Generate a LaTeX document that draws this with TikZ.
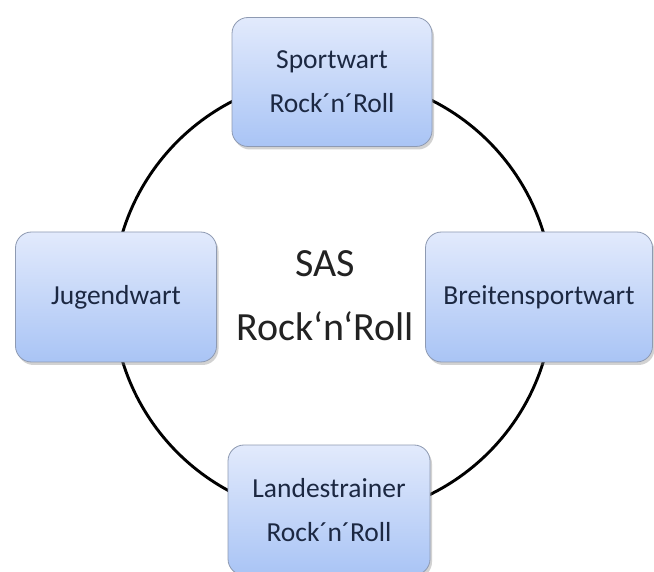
\documentclass[tikz,border=0pt]{standalone}
\usepackage{fontspec}
\setmainfont{Carlito}
\usetikzlibrary{shadows}
\definecolor{boxtop}{HTML}{E2EAFC}
\definecolor{boxbot}{HTML}{A9C4F5}
\definecolor{boxline}{HTML}{8E9AB2}
\definecolor{boxtext}{HTML}{1C2842}
\definecolor{midtext}{HTML}{222222}
\tikzset{
  rolebox/.style={draw=boxline, line width=0.8pt, rounded corners=16pt,
    top color=boxtop, bottom color=boxbot, text=boxtext,
    font=\fontsize{27.5}{44}\selectfont, align=center, inner sep=0pt,
    drop shadow={opacity=0.35, shadow xshift=2pt, shadow yshift=-3pt}},
  ringline/.style={draw=black, line width=2.9pt, circle, inner sep=0pt}
}
\begin{document}
\begin{tikzpicture}[x=1pt,y=-1pt]
\useasboundingbox (0,0) rectangle (654,572);
\fill[white] (0,0) rectangle (654,572);
\node[ringline, minimum size=440pt] (ring) at (333,297) {};
\node[rolebox, minimum width=200pt, minimum height=129pt] (sport) at (332,82) {Sportwart\\Rock´n´Roll};
\node[rolebox, minimum width=201pt, minimum height=130pt] (jugend) at (116,297) {Jugendwart};
\node[rolebox, minimum width=227pt, minimum height=130pt] (breit) at (539,297) {Breitensportwart};
\node[rolebox, minimum width=202pt, minimum height=130pt] (landes) at (329,510) {Landestrainer\\Rock´n´Roll};
\node[text=midtext, font=\fontsize{40}{64}\selectfont, align=center, inner sep=0pt] (sas) at (325,296) {SAS\\Rock‘n‘Roll};
\end{tikzpicture}
\end{document}
